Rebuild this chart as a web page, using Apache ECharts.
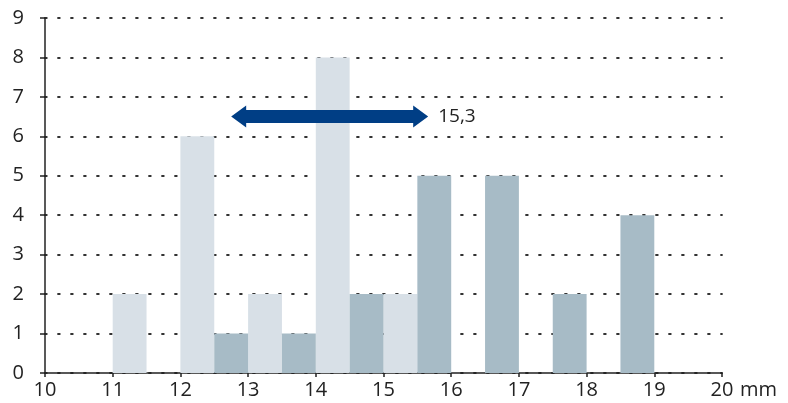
<!DOCTYPE html>
<html>
<head>
<meta charset="utf-8">
<script src="https://cdn.jsdelivr.net/npm/echarts@6/dist/echarts.min.js"></script>
<style>
html,body{margin:0;padding:0;background:#fff;}
#c{width:788px;height:403px;}
</style>
</head>
<body>
<div id="c"></div>
<script>
// Light bins (start of half-mm bin) and counts
var lightStarts = [11, 12, 13, 14, 15];
var lightCounts = [2, 6, 2, 8, 2];
// Dark bins
var darkStarts = [12.5, 13.5, 14.5, 15.5, 16.5, 17.5, 18.5];
var darkCounts = [1, 1, 2, 5, 5, 2, 4];
var binWidth = 0.5;
// Arrow: from, to, at height, label
var arrowFrom = 12.75;
var arrowTo = 15.66;
var arrowY = 6.5;
var arrowLabel = '15,3';
var xTicks = [10, 11, 12, 13, 14, 15, 16, 17, 18, 19, 20];
var yTicks = [0, 1, 2, 3, 4, 5, 6, 7, 8, 9];

var FONT = '"Open Sans", "Noto Sans", sans-serif';
var FS = 20;

function binData(starts, counts) {
  return starts.map(function (s, i) { return [s, s + binWidth, counts[i]]; });
}
function barRender(color) {
  return function (params, api) {
    var p0 = api.coord([api.value(0), 0]);
    var p1 = api.coord([api.value(1), api.value(2)]);
    return {
      type: 'rect',
      shape: { x: p0[0], y: p1[1], width: p1[0] - p0[0], height: p0[1] - p1[1] },
      style: { fill: color }
    };
  };
}

var chart = echarts.init(document.getElementById('c'));
chart.setOption({
  animation: false,
  grid: { left: 45, right: 66, top: 18, bottom: 30 },
  xAxis: {
    type: 'value', min: xTicks[0], max: xTicks[xTicks.length - 1], interval: 1,
    name: 'mm', nameLocation: 'end', nameGap: 18,
    nameTextStyle: { fontFamily: FONT, fontSize: FS, color: '#222', verticalAlign: 'top', padding: [7, 0, 0, 0] },
    axisLine: { show: true, lineStyle: { color: '#222', width: 1.5 } },
    axisTick: { show: true, length: 4, lineStyle: { color: '#222', width: 1.5 } },
    axisLabel: { fontFamily: FONT, fontSize: FS, color: '#222', margin: 7 },
    splitLine: { show: false }
  },
  yAxis: {
    type: 'value', min: yTicks[0], max: yTicks[yTicks.length - 1], interval: 1,
    axisLine: { show: true, lineStyle: { color: '#222', width: 1.5 } },
    axisTick: { show: true, length: 5, lineStyle: { color: '#222', width: 1.5 } },
    axisLabel: { fontFamily: FONT, fontSize: FS, color: '#222', margin: 21 },
    splitLine: { show: true, lineStyle: { color: '#333', width: 1.8, type: [1.8, 11.2], cap: 'round' } }
  },
  series: [
    { type: 'custom', renderItem: barRender('#d8e0e7'), data: binData(lightStarts, lightCounts), z: 1 },
    { type: 'custom', renderItem: barRender('#a7bbc6'), data: binData(darkStarts, darkCounts), z: 1 },
    {
      type: 'custom', z: 5,
      data: [[arrowFrom, arrowTo, arrowY]],
      renderItem: function (params, api) {
        var a = api.coord([api.value(0), api.value(2)]);
        var b = api.coord([api.value(1), api.value(2)]);
        var y = a[1], hl = 15, hh = 11, sh = 6.5;
        var pts = [
          [a[0], y], [a[0] + hl, y - hh], [a[0] + hl, y - sh], [b[0] - hl, y - sh],
          [b[0] - hl, y - hh], [b[0], y], [b[0] - hl, y + hh], [b[0] - hl, y + sh],
          [a[0] + hl, y + sh], [a[0] + hl, y + hh]
        ];
        return {
          type: 'group',
          children: [
            { type: 'polygon', shape: { points: pts }, style: { fill: '#003e85' } },
            { type: 'text', style: { text: arrowLabel, x: b[0] + 10, y: y, fontFamily: FONT, fontSize: 19, fill: '#222', verticalAlign: 'middle', align: 'left' } }
          ]
        };
      }
    }
  ]
});
</script>
</body>
</html>
